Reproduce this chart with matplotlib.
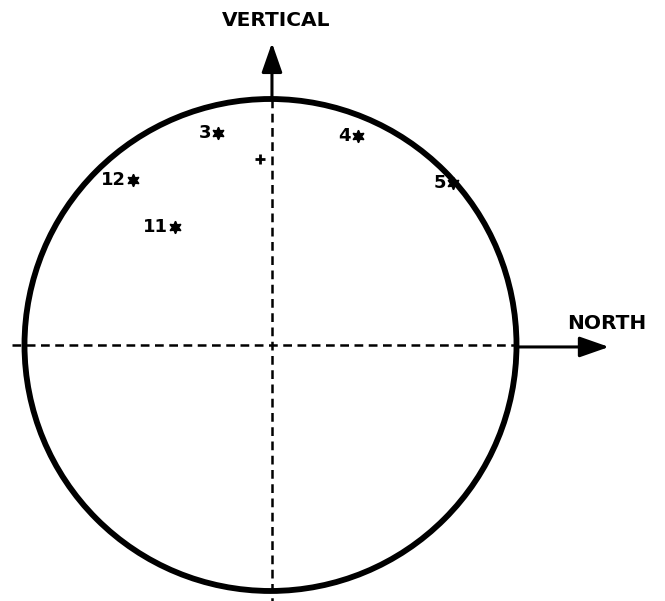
import matplotlib
matplotlib.use("Agg")
import matplotlib.pyplot as plt
import numpy as np
from matplotlib.patches import Circle

# Projected directions (unit circle), labelled by station number
labels = ["3", "4", "5", "11", "12"]
xs = [-0.213, 0.356, 0.741, -0.388, -0.559]
ys = [0.862, 0.850, 0.659, 0.480, 0.671]

# Mean direction marker
mean_x = [-0.043]
mean_y = [0.756]

fig = plt.figure(figsize=(6.65, 6.01), dpi=100)
ax = fig.add_axes([0, 0, 1, 1])
ax.set_xlim(-1.0996, 1.6037)
ax.set_ylim(-1.0407, 1.4024)
ax.set_aspect("equal")
ax.axis("off")

# Reference circle
ax.add_patch(Circle((0, 0), 1.0, fill=False, lw=4.2, color="black"))

# Dashed axes through the centre
ax.plot([-1.05, 1.0], [0, 0], ls=(0, (3.5, 2.2)), lw=1.8, color="black")
ax.plot([0.006, 0.006], [1.0, -1.05], ls=(0, (3.5, 2.2)), lw=1.8, color="black")

# Axis arrows
arrow = dict(arrowstyle="-|>,head_length=1.0,head_width=0.35", lw=2.2,
             color="black", mutation_scale=18, shrinkA=0, shrinkB=0)
ax.annotate("", xy=(0.006, 1.228), xytext=(0.006, 1.0), arrowprops=arrow)
ax.annotate("", xy=(1.376, -0.008), xytext=(1.0, -0.008), arrowprops=arrow)

ax.text(0.022, 1.321, "VERTICAL", ha="center", va="center",
        fontsize=14.5, fontweight="bold")
ax.text(1.368, 0.089, "NORTH", ha="center", va="center",
        fontsize=14.5, fontweight="bold")

# Data points with labels
ax.plot(xs, ys, ls="none", marker=(6, 1, 0), ms=9, color="black")
for lab, x, y in zip(labels, xs, ys):
    ax.annotate(lab, (x, y), xytext=(-5, 0), textcoords="offset points",
                ha="right", va="center", fontsize=13, fontweight="bold")

ax.plot(mean_x, mean_y, ls="none", marker="+", ms=7, mew=2, color="black")

fig.savefig("out.png", dpi=100)
